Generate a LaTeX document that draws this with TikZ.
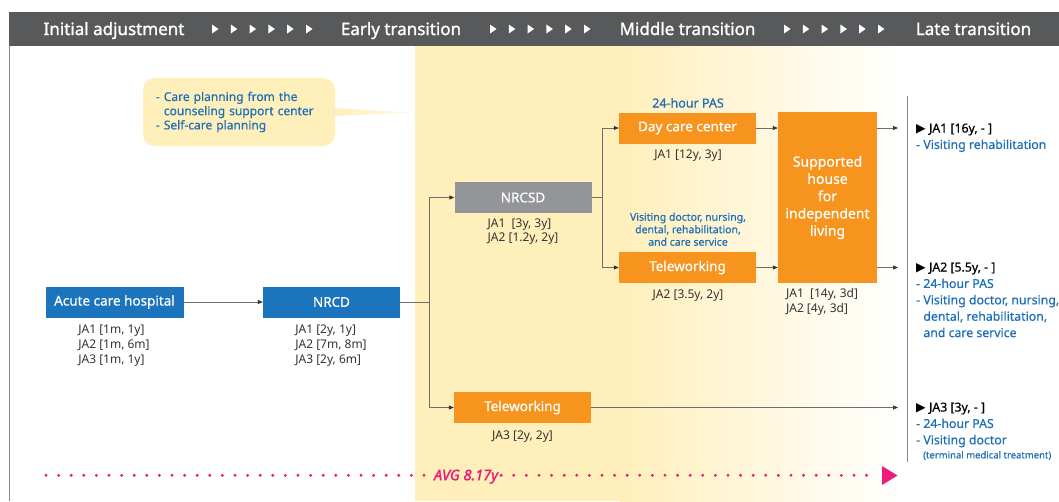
\documentclass[tikz,border=0pt]{standalone}
\usepackage{fontspec}
\setmainfont{Noto Sans}
\newfontfamily\hdfont{Noto Sans}[FakeBold=1.4]
\newfontfamily\medfont{Noto Sans}[FakeBold=0.6]
\newfontfamily\avgfont{Noto Sans}[FakeBold=2]
\newfontfamily\symfont{DejaVu Sans}
\usetikzlibrary{arrows.meta}
\definecolor{hdgray}{HTML}{58595B}
\definecolor{boxblue}{HTML}{1C75BC}
\definecolor{boxgray}{HTML}{939598}
\definecolor{boxorange}{HTML}{F7941D}
\definecolor{tblue}{HTML}{1F6FB8}
\definecolor{tdark}{HTML}{333333}
\definecolor{bandyel}{HTML}{FFEFBB}
\definecolor{pinkc}{HTML}{EC1E79}
\definecolor{linec}{HTML}{6D6E71}
\newcommand{\myfs}[2]{\fontsize{#1}{#2}\selectfont}
\newcommand{\tri}{{\symfont\myfs{12.5}{12.5}▶}}
\begin{document}
\begin{tikzpicture}[x=1pt,y=-1pt,
  box/.style={minimum height=31pt, minimum width=137pt, inner sep=0pt, text=white, font=\medfont\myfs{13.5}{16}},
  lbl/.style={anchor=base, align=left, inner sep=0pt, text=tdark, font=\myfs{12}{15}},
  rt/.style={anchor=base west, align=left, inner sep=0pt, text=black, font=\medfont\myfs{12.3}{16.4}},
  hdr/.style={anchor=base, inner sep=0pt, text=white, font=\hdfont\myfs{17}{20}},
  ln/.style={draw=linec, line width=0.7pt},
  arr/.style={draw=linec, line width=0.7pt, -{Triangle[length=5pt,width=4pt,color=tdark]}},
  dots/.style={draw=pinkc, line width=3.3pt, line cap=round, dash pattern=on 0pt off 12.6pt}
]
\useasboundingbox (0,0) rectangle (1059,501);
\fill[white] (0,0) rectangle (1059,501);
% yellow band
\fill[bandyel] (415,46) rectangle (621,501);
\shade[left color=bandyel, right color=white] (620,46) rectangle (900,501);
% header
\fill[hdgray] (9,12) rectangle (1059,46);
\draw[linec!80, line width=0.8pt] (9.4,46) -- (9.4,501);
\node[hdr] (h1) at (114,35) {Initial adjustment};
\node[hdr] (h2) at (401,35) {Early transition};
\node[hdr] (h3) at (687.5,35) {Middle transition};
\node[hdr] (h4) at (973.5,35) {Late transition};
\foreach \g in {212,490,784}{
  \foreach \i in {0,...,5}{
    \fill[white] ({\g+\i*18.8},24.5) -- ++(6.5,4.5) -- ++(-6.5,4.5) -- cycle;
  }
}
% callout
\node[fill=bandyel, rounded corners=12pt, minimum width=192pt, minimum height=68pt,
      inner xsep=13pt, inner ysep=0pt, text width=166pt, align=left, text=tblue,
      font=\medfont\myfs{12}{14.2}] (plan) at (239,112)
  {- Care planning from the\\\phantom{- }counseling support center\\- Self-care planning};
\shade[left color=bandyel, right color=bandyel!45] ([xshift=-2pt,yshift=4pt]plan.east) -- (410,112.5) -- ([xshift=-2pt,yshift=-4pt]plan.east) -- cycle;
% boxes
\node[box, fill=boxblue, minimum width=138pt] (acute) at (114.5,302) {Acute care hospital};
\node[box, fill=boxblue] (nrcd) at (331.5,302) {NRCD};
\node[box, fill=boxgray] (nrcsd) at (523,197.5) {NRCSD};
\node[box, fill=boxorange] (day) at (687.5,128) {Day care center};
\node[box, fill=boxorange] (tele1) at (687.5,267.5) {Teleworking};
\node[box, fill=boxorange, minimum width=99pt, minimum height=171pt, align=center,
      font=\medfont\myfs{14}{17.3}] (house) at (827.5,197.5) {Supported\\house\\for\\independent\\living};
\node[box, fill=boxorange] (tele2) at (522.5,407.5) {Teleworking};
% connectors
\draw[arr] (acute) -- (nrcd);
\coordinate (j1) at (429.5,302);
\draw[ln] (nrcd.east) -- (j1);
\draw[arr] (j1) |- (nrcsd.west);
\draw[arr] (j1) |- (tele2.west);
\coordinate (j2) at (602.5,197.5);
\draw[ln] (nrcsd.east) -- (j2);
\draw[arr] (j2) |- (day.west);
\draw[arr] (j2) |- (tele1.west);
\draw[arr] (day.east) -- (day.east -| house.west);
\draw[arr] (tele1.east) -- (tele1.east -| house.west);
\coordinate (o1) at (898,128);
\coordinate (o2) at (898,267.5);
\coordinate (o3) at (898,407.5);
\draw[arr] (house.east |- o1) -- (o1);
\draw[arr] (house.east |- o2) -- (o2);
\draw[arr] (tele2.east) -- (o3);
\coordinate (vt) at (907.5,96);
\coordinate (vb) at (907.5,462);
\draw[linec!80, line width=0.8pt] (vt) -- (vb);
% labels (base anchor = baseline of the last line)
\node[lbl] (acuteL) at (114,363.3) {JA1 [1m, 1y]\\JA2 [1m, 6m]\\JA3 [1m, 1y]};
\node[lbl] (nrcdL) at (331,363.3) {JA1 [2y, 1y]\\JA2 [7m, 8m]\\JA3 [2y, 6m]};
\node[lbl, font=\myfs{12}{14.3}] (nrcsdL) at (523,241.8) {JA1 \ [3y, 3y]\\JA2 [1.2y, 2y]};
\node[lbl] (dayL) at (688,158.5) {JA1 [12y, 3y]};
\node[lbl] (tele1L) at (688,298.5) {JA2 [3.5y, 2y]};
\node[lbl] (houseL) at (822,312.3) {JA1 \ [14y, 3d]\\JA2 [4y, 3d]};
\node[lbl] (tele2L) at (522.5,439.5) {JA3 [2y, 2y]};
\node[anchor=base, inner sep=0pt, text=tblue, font=\medfont\myfs{12.5}{15}] (pas) at (688,107.5) {24-hour PAS};
\node[anchor=base, align=center, inner sep=0pt, text=tblue, font=\medfont\myfs{10.5}{12.5}] (svc) at (688,245.7)
  {Visiting doctor, nursing,\\dental, rehabilitation,\\and care service};
% right side
\node[rt] (r1) at (916,148.9) {\tri\ JA1 [16y, - ]\\\textcolor{tblue}{- Visiting rehabilitation}};
\node[rt] (r2) at (916,337.1) {\tri\ JA2 [5.5y, - ]\\\textcolor{tblue}{- 24-hour PAS}\\\textcolor{tblue}{- Visiting doctor, nursing,}\\\textcolor{tblue}{\phantom{- }dental, rehabilitation,}\\\textcolor{tblue}{\phantom{- }and care service}};
\node[rt] (r3) at (916,444.3) {\tri\ JA3 [3y, - ]\\\textcolor{tblue}{- 24-hour PAS}\\\textcolor{tblue}{- Visiting doctor}};
\node[anchor=base west, inner sep=0pt, text=tblue, font=\medfont\myfs{9.5}{11}] (r3b) at (923,458.4) {(terminal medical treatment)};
% average line
\node[anchor=base, inner sep=3pt, text=pinkc, font=\avgfont\itshape\myfs{14.5}{16}] (avg) at (466,480.2) {AVG 8.17y};
\coordinate (ds) at (46,475.3);
\coordinate (de) at (878,475.3);
\draw[dots] (ds) -- (ds -| avg.west);
\draw[dots] (avg.east |- ds) -- (de);
\fill[pinkc] (882,466) -- (897.5,475.5) -- (882,485) -- cycle;
\end{tikzpicture}
\end{document}
